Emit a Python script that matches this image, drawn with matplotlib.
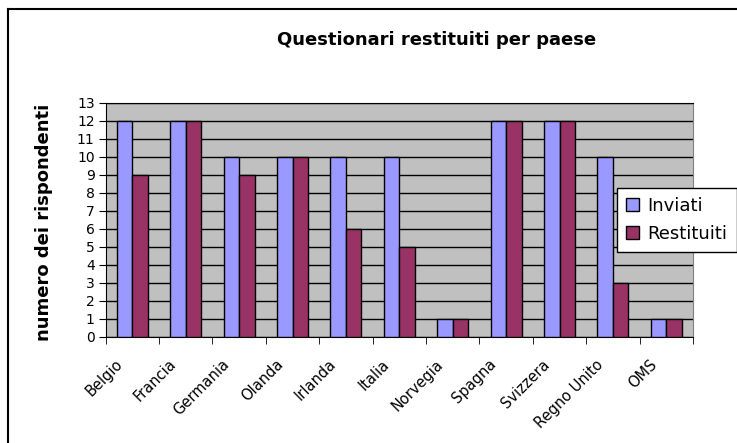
import numpy as np
import matplotlib.pyplot as plt
from matplotlib.lines import Line2D
from matplotlib.transforms import ScaledTranslation

paesi = ['Belgio', 'Francia', 'Germania', 'Olanda', 'Irlanda', 'Italia',
         'Norvegia', 'Spagna', 'Svizzera', 'Regno Unito', 'OMS']
inviati = [12, 12, 10, 10, 10, 10, 1, 12, 12, 10, 1]
restituiti = [9, 12, 9, 10, 6, 5, 1, 12, 12, 3, 1]

plt.rcParams['font.family'] = 'DejaVu Sans'

fig = plt.figure(figsize=(7.37, 4.43), dpi=100)
ax = fig.add_axes([105.7 / 737, 1 - 337 / 443, 587.3 / 737, 234.3 / 443])

x = np.arange(len(paesi))
w = 0.29
ax.bar(x - w / 2, inviati, w, color='#9999FF', edgecolor='black', linewidth=1,
       label='Inviati', zorder=3)
ax.bar(x + w / 2, restituiti, w, color='#993366', edgecolor='black', linewidth=1,
       label='Restituiti', zorder=3)

ax.set_facecolor('#C0C0C0')
ax.set_xlim(-0.5, len(paesi) - 0.5)
ax.set_ylim(0, 13)
ax.set_yticks(range(0, 14))
ax.yaxis.grid(True, color='black', linewidth=1, zorder=1)
ax.set_axisbelow(True)
ax.tick_params(axis='y', direction='out', length=5, labelsize=10, pad=3)

ax.set_xticks(x)
ax.set_xticks(np.arange(-0.5, len(paesi)), minor=True)
ax.tick_params(axis='x', which='major', length=0, pad=0)
ax.tick_params(axis='x', which='minor', direction='out', length=5)
ax.set_xticklabels(paesi, rotation=45, ha='right', va='center',
                   rotation_mode='anchor', fontsize=10.5)
off = ScaledTranslation(-12 / 100, -25 / 100, fig.dpi_scale_trans)
for lab in ax.get_xticklabels():
    lab.set_transform(lab.get_transform() + off)

for s in ['left', 'bottom']:
    ax.spines[s].set_color('black')
ax.spines['top'].set_color('black')
ax.spines['right'].set_color('#808080')

ax.set_ylabel('numero dei rispondenti', fontsize=13, fontweight='bold')
ax.yaxis.set_label_coords(-53 / 587.3, 0.49)

fig.text(437 / 737, 1 - 40 / 443, 'Questionari restituiti per paese',
         fontsize=13, fontweight='bold', ha='center', va='center')

leg = ax.legend(loc='upper left', bbox_to_anchor=(617 / 737, 1 - 188 / 443),
                bbox_transform=fig.transFigure, fontsize=13, frameon=True,
                fancybox=False, edgecolor='black', framealpha=1,
                handlelength=0.7, handleheight=0.7, handletextpad=0.5,
                borderpad=0.5, labelspacing=0.55, borderaxespad=0)
leg.get_frame().set_linewidth(1)

# cornice esterna del grafico
fig.add_artist(Line2D([8 / 737, 8 / 737], [0, 1 - 9 / 443], color='black', linewidth=1.5))
fig.add_artist(Line2D([8 / 737, 1], [1 - 9 / 443, 1 - 9 / 443], color='black', linewidth=1.5))

plt.savefig('out.png', dpi=100)
